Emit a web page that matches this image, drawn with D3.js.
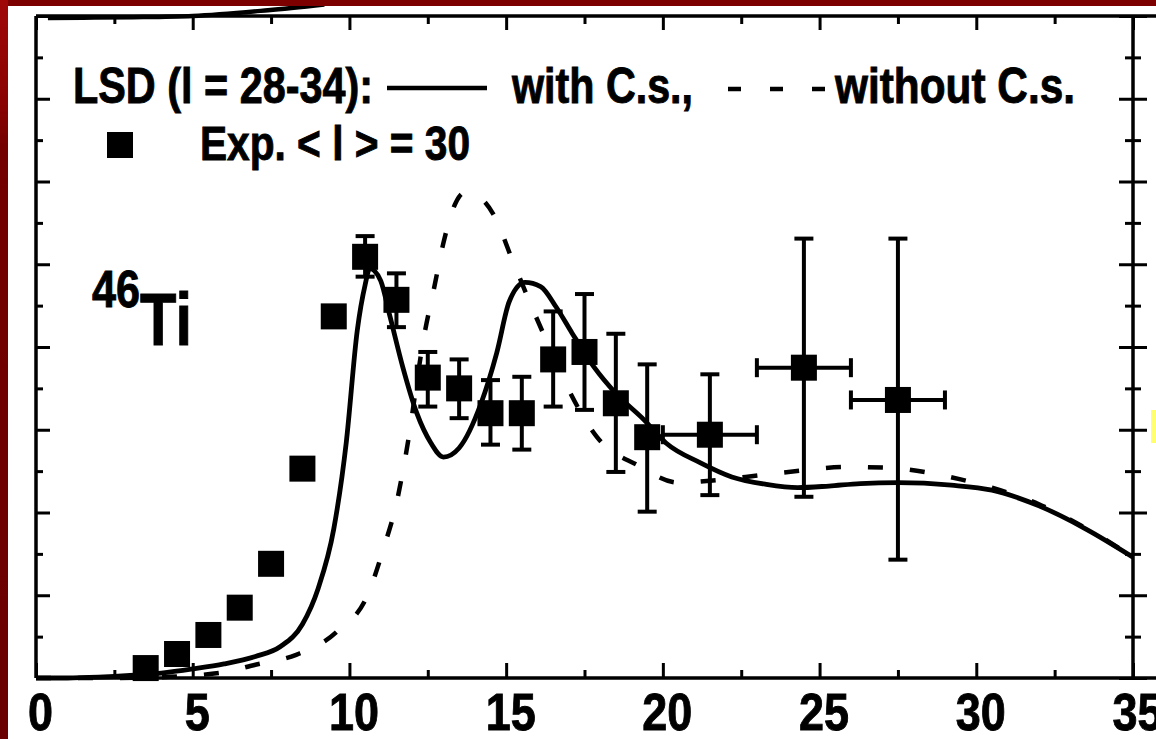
<!DOCTYPE html>
<html>
<head>
<meta charset="utf-8">
<script src="https://cdn.jsdelivr.net/npm/d3@7"></script>
<style>
  html, body { margin: 0; padding: 0; background: #fff; }
  svg { display: block; }
  text { font-family: "Liberation Sans Narrow", "Arial Narrow", "Liberation Sans", Arial, sans-serif; font-weight: bold; fill: #000; stroke: #000; stroke-width: 0.9px; }
</style>
</head>
<body>
<svg id="chart" width="1156" height="739"></svg>
<script>
// ---------- data ----------
const xTickLabels = ["0", "5", "10", "15", "20", "25", "30", "35"];
const xMajorTicks = [0, 5, 10, 15, 20, 25, 30, 35];
const xMinorTicks = [2.5, 7.5, 12.5, 17.5, 22.5, 27.5, 32.5];
const yMajorTicks = [0, 1, 2, 3, 4, 5, 6, 7, 8];
const yMinorTicks = [0.5, 1.5, 2.5, 3.5, 4.5, 5.5, 6.5, 7.5];

// Experimental points, <l> = 30
const expX    = [3.5, 4.5, 5.5, 6.5, 7.5, 8.5, 9.5, 10.5, 11.5, 12.5, 13.5, 14.5, 15.5, 16.5, 17.5, 18.5, 19.5, 21.5, 24.5, 27.5];
const expY    = [0.12, 0.29, 0.52, 0.85, 1.38, 2.53, 4.37, 5.09, 4.57, 3.63, 3.50, 3.20, 3.20, 3.85, 3.94, 3.32, 2.91, 2.94, 3.75, 3.36];
const expYLo  = [null, null, null, null, null, null, null, 4.85, 4.24, 3.28, 3.14, 2.82, 2.76, 3.28, 3.24, 2.49, 2.01, 2.21, 2.19, 1.43];
const expYHi  = [null, null, null, null, null, null, null, 5.34, 4.89, 3.94, 3.85, 3.60, 3.64, 4.43, 4.64, 4.16, 3.79, 3.67, 5.31, 5.31];
const expXLo  = [null, null, null, null, null, null, null, null, null, null, null, null, null, null, null, null, null, 20, 23, 26];
const expXHi  = [null, null, null, null, null, null, null, null, null, null, null, null, null, null, null, null, null, 23, 26, 29];

// LSD with C.s. (solid)
const withX = [0, 1, 2, 3, 4, 5, 6, 7, 7.8, 8.5, 9.0, 9.5, 9.9, 10.25, 10.5, 10.65, 10.8, 11.0, 11.3, 11.7, 12.15, 12.6, 13.0, 13.5, 14.2, 14.7, 15.1, 15.6, 16.1, 16.6, 17.1, 17.8, 18.5, 19.4, 20.1, 21.2, 22.2, 23.3, 24.3, 25.3, 26.3, 27.5, 29.2, 30.5, 32, 33.5, 35];
const withY = [0.0, 0.0, 0.01, 0.03, 0.06, 0.11, 0.17, 0.26, 0.38, 0.65, 1.08, 1.80, 2.85, 4.2, 4.75, 4.95, 4.92, 4.80, 4.36, 3.76, 3.2, 2.84, 2.67, 2.78, 3.32, 3.93, 4.55, 4.78, 4.73, 4.48, 4.17, 3.76, 3.44, 3.12, 2.84, 2.60, 2.43, 2.34, 2.30, 2.32, 2.35, 2.36, 2.33, 2.27, 2.08, 1.80, 1.46];

// LSD without C.s. (dashed)
const withoutX = [0, 2, 4, 5, 6, 7, 8.3, 9.6, 10.6, 11.1, 11.5, 11.8, 12.4, 12.7, 13.0, 13.4, 13.65, 14.1, 14.6, 15.2, 15.8, 16.4, 17.0, 17.9, 19.2, 20.5, 21.7, 23.1, 24.5, 25.8, 27.2, 28.5, 29.5, 30.5, 32, 33.5, 35];
const withoutY = [0, 0, 0.01, 0.03, 0.07, 0.16, 0.28, 0.56, 1.02, 1.58, 2.11, 2.70, 4.17, 4.71, 5.26, 5.75, 5.86, 5.82, 5.60, 5.05, 4.50, 3.98, 3.48, 2.91, 2.57, 2.36, 2.39, 2.45, 2.51, 2.55, 2.54, 2.48, 2.40, 2.30, 2.10, 1.81, 1.46];

// curve of the panel above, visible at the top edge
const upperX = [0.38, 1.5, 3.1, 5.0, 7.4, 9.2];
const upperY = [7.975, 7.98, 7.985, 8.0, 8.07, 8.14];

// ---------- drawing ----------
const W = 1156, H = 739;
const svg = d3.select("#chart");
const x = d3.scaleLinear().domain([0, 35]).range([36, 1133]);
const y = d3.scaleLinear().domain([0, 8]).range([678, 16]);

svg.append("rect").attr("width", W).attr("height", H).attr("fill", "#fff");

const line = d3.line().x(d => x(d[0])).y(d => y(d[1])).curve(d3.curveMonotoneX);

// upper panel curve
svg.append("path")
  .datum(d3.zip(upperX, upperY))
  .attr("d", line)
  .attr("fill", "none").attr("stroke", "#000").attr("stroke-width", 4.5);

// axes
function styleAxis(g, sw) {
  g.select(".domain").remove();
  g.selectAll(".tick line").attr("stroke", "#000").attr("stroke-width", sw);
}
// bottom
const gB = svg.append("g").attr("transform", "translate(0,678)")
  .call(d3.axisBottom(x).tickValues(xMajorTicks).tickSizeInner(-15).tickSizeOuter(0).tickFormat((d, i) => xTickLabels[i]));
styleAxis(gB, 3);
gB.selectAll(".tick text")
  .attr("y", 52).attr("dy", 0).attr("dx", 4)
  .attr("font-size", 52)
  .attr("font-family", null)
  .attr("fill", "#000")
  .attr("textLength", (d, i) => xTickLabels[i].length * 25)
  .attr("lengthAdjust", "spacingAndGlyphs");
const gBm = svg.append("g").attr("transform", "translate(0,678)")
  .call(d3.axisBottom(x).tickValues(xMinorTicks).tickSizeInner(-8).tickSizeOuter(0).tickFormat(""));
styleAxis(gBm, 3);
// top
const gT = svg.append("g").attr("transform", "translate(0,16)")
  .call(d3.axisTop(x).tickValues(xMajorTicks).tickSizeInner(-14).tickSizeOuter(0).tickFormat(""));
styleAxis(gT, 3);
const gTm = svg.append("g").attr("transform", "translate(0,16)")
  .call(d3.axisTop(x).tickValues(xMinorTicks).tickSizeInner(-8).tickSizeOuter(0).tickFormat(""));
styleAxis(gTm, 3);
// left
const gL = svg.append("g").attr("transform", "translate(36,0)")
  .call(d3.axisLeft(y).tickValues(yMajorTicks).tickSizeInner(-14).tickSizeOuter(0).tickFormat(""));
styleAxis(gL, 3);
const gLm = svg.append("g").attr("transform", "translate(36,0)")
  .call(d3.axisLeft(y).tickValues(yMinorTicks).tickSizeInner(-7).tickSizeOuter(0).tickFormat(""));
styleAxis(gLm, 3);
// right (ticks crossing the axis)
const gR = svg.append("g").attr("transform", "translate(1119,0)")
  .call(d3.axisRight(y).tickValues(yMajorTicks).tickSizeInner(28).tickSizeOuter(0).tickFormat(""));
styleAxis(gR, 3);
const gRm = svg.append("g").attr("transform", "translate(1125,0)")
  .call(d3.axisRight(y).tickValues(yMinorTicks).tickSizeInner(16).tickSizeOuter(0).tickFormat(""));
styleAxis(gRm, 3);

// frame
const frame = svg.append("g").attr("stroke", "#000").attr("stroke-width", 3.5).attr("fill", "none");
frame.append("line").attr("x1", x(0)).attr("x2", W).attr("y1", y(0)).attr("y2", y(0));
frame.append("line").attr("x1", x(0)).attr("x2", W).attr("y1", y(8)).attr("y2", y(8));
frame.append("line").attr("x1", x(0)).attr("x2", x(0)).attr("y1", y(8)).attr("y2", y(0));
frame.append("line").attr("x1", x(35)).attr("x2", x(35)).attr("y1", y(8)).attr("y2", y(0));

// curves
svg.append("path").datum(d3.zip(withoutX, withoutY)).attr("d", line)
  .attr("fill", "none").attr("stroke", "#000").attr("stroke-width", 4.5)
  .attr("stroke-dasharray", "15,27");
svg.append("path").datum(d3.zip(withX, withY)).attr("d", line)
  .attr("fill", "none").attr("stroke", "#000").attr("stroke-width", 4.8);

// experimental points with error bars
const pts = expX.map((v, i) => ({ x: v, y: expY[i], ylo: expYLo[i], yhi: expYHi[i], xlo: expXLo[i], xhi: expXHi[i] }));
const eb = svg.append("g").attr("stroke", "#000").attr("stroke-width", 4);
const cap = 9.5;
pts.forEach(p => {
  if (p.ylo != null) {
    eb.append("line").attr("x1", x(p.x)).attr("x2", x(p.x)).attr("y1", y(p.ylo)).attr("y2", y(p.yhi));
    eb.append("line").attr("x1", x(p.x) - cap).attr("x2", x(p.x) + cap).attr("y1", y(p.ylo)).attr("y2", y(p.ylo));
    eb.append("line").attr("x1", x(p.x) - cap).attr("x2", x(p.x) + cap).attr("y1", y(p.yhi)).attr("y2", y(p.yhi));
  }
  if (p.xlo != null) {
    eb.append("line").attr("x1", x(p.xlo)).attr("x2", x(p.xhi)).attr("y1", y(p.y)).attr("y2", y(p.y));
    eb.append("line").attr("x1", x(p.xlo)).attr("x2", x(p.xlo)).attr("y1", y(p.y) - cap).attr("y2", y(p.y) + cap);
    eb.append("line").attr("x1", x(p.xhi)).attr("x2", x(p.xhi)).attr("y1", y(p.y) - cap).attr("y2", y(p.y) + cap);
  }
});
const sq = 26;
svg.append("g").selectAll("rect").data(pts).join("rect")
  .attr("x", d => x(d.x) - sq / 2).attr("y", d => y(d.y) - sq / 2)
  .attr("width", sq).attr("height", sq).attr("fill", "#000");

// legend
function txt(s, tx, ty, size, len) {
  return svg.append("text").attr("x", tx).attr("y", ty).attr("font-size", size)
    .attr("textLength", len).attr("lengthAdjust", "spacingAndGlyphs").text(s);
}
txt("LSD (l = 28-34):", 73, 103, 50, 300);
svg.append("line").attr("x1", 387).attr("x2", 487).attr("y1", 88).attr("y2", 88)
  .attr("stroke", "#000").attr("stroke-width", 4.5);
txt("with C.s.,", 512, 103, 50, 181);
svg.append("line").attr("x1", 728).attr("x2", 825).attr("y1", 89).attr("y2", 89)
  .attr("stroke", "#000").attr("stroke-width", 4.5).attr("stroke-dasharray", "13,29");
txt("without C.s.", 835, 103, 50, 240);
svg.append("rect").attr("x", 107).attr("y", 132).attr("width", sq).attr("height", sq).attr("fill", "#000");
txt("Exp. < l > = 30", 200, 160, 48, 270);

// nucleus label (superscript mass number)
const nuc = svg.append("text").attr("x", 92).attr("y", 307);
nuc.append("tspan").attr("font-size", 52).attr("textLength", 48).attr("lengthAdjust", "spacingAndGlyphs").text("46");
nuc.append("tspan").attr("font-size", 75).attr("dy", 38).attr("textLength", 52).attr("lengthAdjust", "spacingAndGlyphs").text("Ti");

// border decorations
const defs = svg.append("defs");
const grad = defs.append("linearGradient").attr("id", "leftRed").attr("x1", 0).attr("x2", 0).attr("y1", 0).attr("y2", 1);
grad.append("stop").attr("offset", 0).attr("stop-color", "#a00808");
grad.append("stop").attr("offset", 0.14).attr("stop-color", "#8a0202");
grad.append("stop").attr("offset", 0.2).attr("stop-color", "#740000");
grad.append("stop").attr("offset", 1).attr("stop-color", "#6a0000");
svg.append("rect").attr("x", 0).attr("y", 0).attr("width", W).attr("height", 6).attr("fill", "#7c0000");
svg.append("rect").attr("x", 0).attr("y", 0).attr("width", 8).attr("height", H).attr("fill", "url(#leftRed)");
svg.append("rect").attr("x", 1151).attr("y", 410).attr("width", 5).attr("height", 33).attr("fill", "#ffff70");
</script>
</body>
</html>
